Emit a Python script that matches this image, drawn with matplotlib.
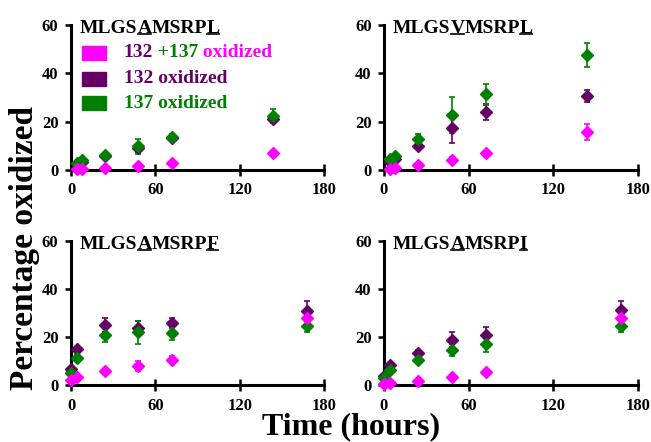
import numpy as np
import matplotlib
matplotlib.use('Agg')
import matplotlib.pyplot as plt
from matplotlib.patches import Rectangle
from matplotlib.lines import Line2D

plt.rcParams['font.family'] = 'Liberation Serif'
plt.rcParams['font.weight'] = 'bold'

PINK = '#FF00FF'
PURPLE = '#660066'
GREEN = '#008000'

# time points (hours)
t_top = [4, 8, 24, 48, 72, 144]
t_bot = [0, 4, 24, 48, 72, 168]

# MLGSAMSRPL
a_both = [0.3, 0.3, 0.7, 1.7, 2.7, 6.9]
a_both_err = [0.2, 0.2, 0.3, 0.5, 0.5, 0.8]
a_132 = [2.5, 3.5, 5.6, 9.0, 13.2, 21.0]
a_132_err = [0.5, 0.5, 1.0, 1.5, 1.0, 1.5]
a_137 = [3.1, 4.0, 6.2, 9.8, 13.8, 22.5]
a_137_err = [0.5, 0.8, 1.0, 3.0, 1.0, 2.8]

# MLGSVMSRPL
b_both = [0.3, 1.0, 2.1, 4.2, 6.9, 15.9]
b_both_err = [0.3, 0.3, 0.5, 1.0, 0.8, 3.3]
b_132 = [3.3, 4.4, 9.9, 17.2, 24.0, 30.7]
b_132_err = [0.5, 0.6, 1.3, 6.0, 3.3, 2.5]
b_137 = [4.4, 5.8, 12.7, 22.8, 31.3, 47.6]
b_137_err = [0.6, 0.8, 2.0, 7.5, 4.2, 4.8]

# MLGSAMSRPF
c_both = [2.2, 3.2, 5.8, 7.8, 10.5, 27.8]
c_both_err = [0.3, 0.4, 0.5, 2.0, 1.5, 1.0]
c_132 = [6.6, 14.8, 25.0, 23.8, 25.8, 31.0]
c_132_err = [0.8, 1.0, 3.0, 3.0, 2.0, 4.0]
c_137 = [5.0, 11.3, 20.9, 21.9, 21.7, 24.6]
c_137_err = [0.8, 1.5, 3.0, 4.8, 3.0, 2.5]

# MLGSAMSRPI
d_both = [0.4, 0.8, 1.5, 3.3, 5.6, 27.8]
d_both_err = [0.2, 0.2, 0.3, 0.5, 0.5, 1.0]
d_132 = [3.6, 8.4, 13.5, 18.9, 21.0, 31.2]
d_132_err = [0.5, 0.8, 1.0, 3.0, 3.0, 4.0]
d_137 = [3.0, 6.4, 10.5, 14.7, 17.2, 24.6]
d_137_err = [0.5, 0.8, 1.0, 2.5, 3.5, 2.5]

# peptide names, pieces flagged True are underlined
titles = [[('MLGS', False), ('A', True), ('MSRP', False), ('L', True)],
          [('MLGS', False), ('V', True), ('MSRP', False), ('L', True)],
          [('MLGS', False), ('A', True), ('MSRP', False), ('F', True)],
          [('MLGS', False), ('A', True), ('MSRP', False), ('I', True)]]

panels = [
    (t_top, a_both, a_both_err, a_132, a_132_err, a_137, a_137_err),
    (t_top, b_both, b_both_err, b_132, b_132_err, b_137, b_137_err),
    (t_bot, c_both, c_both_err, c_132, c_132_err, c_137, c_137_err),
    (t_bot, d_both, d_both_err, d_132, d_132_err, d_137, d_137_err),
]

W, H = 651, 442
fig = plt.figure(figsize=(W / 100, H / 100), dpi=100)

# axes boxes in pixels: left, right, top, bottom
boxes = [(71, 324, 25, 170), (384, 638, 25, 170),
         (71, 324, 241, 385), (384, 638, 241, 385)]

axes = []
for (l, r, tp, bt) in boxes:
    ax = fig.add_axes([l / W, 1 - bt / H, (r - l) / W, (bt - tp) / H])
    axes.append(ax)

underlined = []
for ax, p, title in zip(axes, panels, titles):
    t, yb, eb, y1, e1, y2, e2 = p
    for y, e, c in [(y1, e1, PURPLE), (y2, e2, GREEN), (yb, eb, PINK)]:
        ax.errorbar(t, y, yerr=e, fmt='D', color=c, ecolor=c, ms=6,
                    mec=c, elinewidth=1.2, capsize=2, capthick=1.2,
                    clip_on=False, zorder=3)
    ax.set_xlim(0, 180)
    ax.set_ylim(0, 60)
    ax.set_xticks([0, 60, 120, 180])
    ax.set_yticks([0, 20, 40, 60])
    for s in ['top', 'right']:
        ax.spines[s].set_visible(False)
    for s in ['left', 'bottom']:
        ax.spines[s].set_linewidth(2.2)
    ax.tick_params(axis='x', direction='inout', length=8, width=1.8,
                   labelsize=12, pad=5)
    ax.tick_params(axis='y', direction='out', length=4, width=1.8,
                   labelsize=12, pad=5)
    ax.patch.set_visible(False)

    # title made of pieces so some letters can be underlined
    prev = None
    for s, ul in title:
        if prev is None:
            prev = ax.text(0.035, 0.945, s, transform=ax.transAxes,
                           fontsize=14, va='baseline', ha='left')
        else:
            prev = ax.annotate(s, xy=(1, 0), xycoords=prev, fontsize=14,
                               va='bottom', ha='left')
        if ul:
            underlined.append((ax, prev))

# legend in first panel
ax = axes[0]
rows = [(0.807, PINK, [('132', PURPLE), (' +137', GREEN), (' oxidized', PINK)]),
        (0.628, PURPLE, [('132 oxidized', PURPLE)]),
        (0.462, GREEN, [('137 oxidized', GREEN)])]
for yc, col, parts in rows:
    ax.add_patch(Rectangle((0.043, yc - 0.05), 0.095, 0.10, color=col,
                           transform=ax.transAxes, clip_on=False))
    prev = ax.text(0.208, yc, parts[0][0], color=parts[0][1], fontsize=14,
                   transform=ax.transAxes, va='center', ha='left')
    for s, c in parts[1:]:
        prev = ax.annotate(s, xy=(1, 0), xycoords=prev, color=c, fontsize=14,
                           va='bottom', ha='left')

fig.text(25 / W, 0.44, 'Percentage oxidized', rotation=90, fontsize=24,
         ha='center', va='center')
fig.text(0.54, 1 - 434 / H, 'Time (hours)', fontsize=23, ha='center',
         va='baseline')

# underline letters
fig.canvas.draw()
renderer = fig.canvas.get_renderer()
for ax, txt in underlined:
    bb = txt.get_window_extent(renderer)
    ybase = ax.transAxes.transform((0, 0.945))[1] - 1.5
    x0, y0 = fig.transFigure.inverted().transform((bb.x0 + 0.5, ybase))
    x1, _ = fig.transFigure.inverted().transform((bb.x1 - 0.5, ybase))
    fig.add_artist(Line2D([x0, x1], [y0, y0], color='black', lw=1.2))

fig.savefig('out.png', dpi=100)
